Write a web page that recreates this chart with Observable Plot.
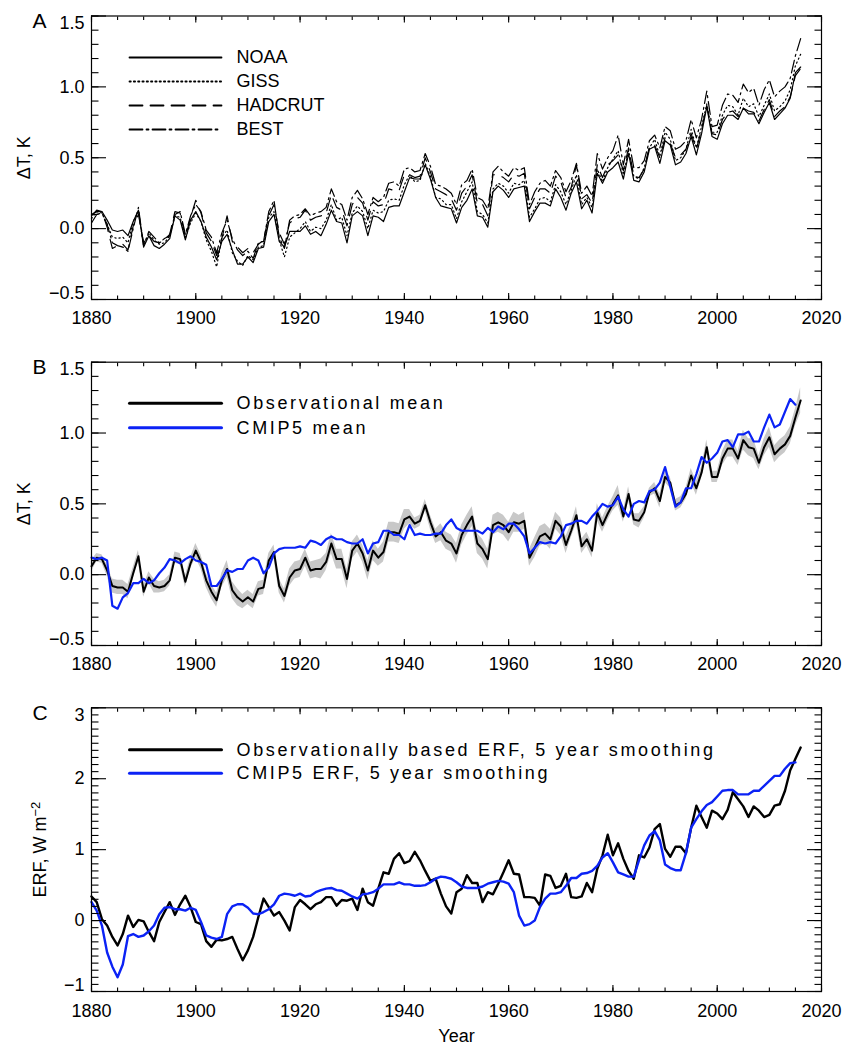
<!DOCTYPE html>
<html><head><meta charset="utf-8">
<script src="https://cdn.jsdelivr.net/npm/d3@7"></script>
<script src="https://cdn.jsdelivr.net/npm/@observablehq/plot@0.6"></script>
<style>
body{margin:0;background:#fff;}
#chart{position:relative;width:848px;height:1046px;}
#chart svg{position:absolute;left:0;}
</style></head><body><div id="chart"></div>
<script>
// ---------- data ----------
const years = d3.range(1880, 2017);          // 1880..2016
const years15 = d3.range(1880, 2016);        // 1880..2015

const noaa = [
0.10,0.12,0.12,0.06,-0.01,-0.02,-0.01,-0.05,0.05,0.13,
-0.13,-0.05,-0.12,-0.14,-0.11,-0.07,0.09,0.06,-0.08,0.06,
0.12,0.05,-0.06,-0.13,-0.22,-0.09,-0.04,-0.15,-0.25,-0.25,
-0.20,-0.24,-0.14,-0.13,0.05,0.10,-0.09,-0.13,-0.02,-0.02,
-0.02,0.02,-0.04,-0.02,-0.05,0.03,0.13,0.05,0.04,-0.10,
0.09,0.12,0.09,-0.05,0.09,0.08,0.05,0.15,0.16,0.16,
0.26,0.36,0.35,0.35,0.45,0.35,0.22,0.16,0.15,0.14,
0.04,0.15,0.20,0.28,0.09,0.08,0.01,0.26,0.30,0.27,
0.22,0.28,0.29,0.30,0.05,0.12,0.18,0.18,0.16,0.28,
0.22,0.13,0.25,0.33,0.14,0.20,0.11,0.39,0.32,0.40,
0.43,0.47,0.35,0.53,0.34,0.33,0.40,0.56,0.58,0.46,
0.62,0.59,0.45,0.47,0.53,0.65,0.52,0.67,0.86,0.65,
0.63,0.74,0.80,0.80,0.77,0.85,0.81,0.81,0.74,0.82,
0.89,0.77,0.81,0.85,0.92,1.10,1.14];

const giss = [
0.07,0.12,0.11,0.03,-0.06,-0.07,-0.06,-0.10,0.05,0.12,
-0.12,-0.03,-0.08,-0.11,-0.10,-0.05,0.09,0.08,-0.07,0.04,
0.11,0.05,-0.08,-0.16,-0.27,-0.06,-0.01,-0.17,-0.23,-0.26,
-0.19,-0.22,-0.13,-0.12,0.08,0.12,-0.08,-0.20,-0.06,-0.03,
0.00,0.05,-0.02,0.01,0.00,0.06,0.17,0.06,0.08,-0.05,
0.11,0.16,0.12,0.00,0.13,0.11,0.12,0.20,0.21,0.20,
0.31,0.38,0.33,0.34,0.46,0.37,0.22,0.21,0.17,0.17,
0.07,0.19,0.26,0.33,0.12,0.10,0.04,0.28,0.32,0.30,
0.25,0.32,0.31,0.34,0.08,0.14,0.21,0.22,0.19,0.31,
0.26,0.17,0.27,0.38,0.17,0.22,0.15,0.42,0.33,0.43,
0.49,0.55,0.38,0.55,0.37,0.35,0.43,0.57,0.63,0.51,
0.68,0.63,0.48,0.50,0.56,0.70,0.57,0.72,0.88,0.68,
0.68,0.80,0.87,0.86,0.80,0.92,0.86,0.88,0.79,0.87,
0.95,0.83,0.86,0.90,0.98,1.15,1.23];

const hadcrut = [
0.09,0.13,0.12,0.01,-0.14,-0.12,-0.11,-0.15,0.02,0.10,
-0.10,-0.05,-0.09,-0.10,-0.08,-0.04,0.12,0.11,-0.06,0.08,
0.20,0.11,-0.03,-0.09,-0.19,-0.07,0.09,-0.09,-0.13,-0.17,
-0.14,-0.17,-0.11,-0.08,0.09,0.17,-0.03,-0.11,0.04,0.07,
0.08,0.13,0.06,0.08,0.09,0.11,0.24,0.15,0.13,0.02,
0.17,0.22,0.18,0.06,0.19,0.16,0.17,0.28,0.27,0.27,
0.38,0.38,0.36,0.37,0.50,0.40,0.28,0.26,0.24,0.21,
0.13,0.25,0.30,0.38,0.18,0.17,0.09,0.38,0.38,0.36,
0.33,0.38,0.37,0.39,0.14,0.22,0.28,0.28,0.25,0.37,
0.33,0.22,0.29,0.45,0.21,0.24,0.18,0.45,0.36,0.45,
0.48,0.52,0.41,0.57,0.37,0.36,0.42,0.58,0.59,0.50,
0.64,0.60,0.50,0.52,0.56,0.67,0.56,0.70,0.87,0.67,
0.66,0.77,0.82,0.83,0.79,0.85,0.83,0.82,0.76,0.84,
0.91,0.79,0.83,0.86,0.93,1.08,1.13];

const best = [
0.04,0.10,0.11,0.03,-0.10,-0.12,-0.13,-0.16,0.00,0.15,
-0.12,-0.02,-0.06,-0.10,-0.07,-0.05,0.10,0.12,-0.04,0.09,
0.17,0.12,-0.01,-0.06,-0.17,-0.03,0.06,-0.07,-0.15,-0.19,
-0.16,-0.21,-0.10,-0.09,0.12,0.20,-0.06,-0.14,0.06,0.09,
0.10,0.14,0.09,0.11,0.12,0.15,0.28,0.19,0.17,0.06,
0.22,0.27,0.21,0.10,0.22,0.19,0.22,0.32,0.33,0.30,
0.42,0.43,0.40,0.41,0.53,0.44,0.31,0.30,0.28,0.25,
0.17,0.31,0.34,0.42,0.22,0.20,0.14,0.40,0.44,0.40,
0.37,0.43,0.41,0.43,0.17,0.26,0.32,0.34,0.30,0.41,
0.36,0.26,0.34,0.46,0.25,0.30,0.23,0.53,0.42,0.50,
0.55,0.66,0.45,0.63,0.43,0.43,0.48,0.62,0.66,0.57,
0.72,0.69,0.56,0.58,0.62,0.77,0.64,0.77,0.97,0.72,
0.73,0.87,0.95,0.94,0.89,1.02,0.96,0.99,0.87,0.98,
1.05,0.93,0.97,1.00,1.06,1.22,1.34];

const obsMean = [
0.06,0.12,0.11,0.03,-0.08,-0.09,-0.09,-0.12,0.01,0.13,
-0.12,-0.02,-0.08,-0.09,-0.08,-0.04,0.12,0.11,-0.05,0.08,
0.17,0.09,-0.04,-0.12,-0.18,-0.04,0.04,-0.11,-0.16,-0.19,
-0.16,-0.19,-0.10,-0.09,0.10,0.16,-0.08,-0.15,-0.02,0.03,
0.04,0.12,0.03,0.04,0.04,0.09,0.22,0.11,0.11,-0.03,
0.17,0.22,0.15,0.03,0.17,0.12,0.16,0.30,0.30,0.29,
0.39,0.41,0.36,0.38,0.49,0.37,0.27,0.30,0.24,0.22,
0.15,0.28,0.35,0.41,0.22,0.18,0.11,0.35,0.37,0.35,
0.30,0.37,0.36,0.38,0.12,0.19,0.27,0.29,0.25,0.38,
0.34,0.21,0.31,0.42,0.20,0.25,0.17,0.44,0.35,0.43,
0.50,0.56,0.41,0.57,0.39,0.38,0.44,0.58,0.61,0.52,
0.69,0.65,0.49,0.51,0.57,0.70,0.61,0.72,0.90,0.69,
0.69,0.82,0.89,0.89,0.82,0.95,0.90,0.89,0.79,0.90,
0.97,0.85,0.89,0.92,0.98,1.11,1.23];

const obsSpread = [
0.04,0.03,0.03,0.04,0.05,0.05,0.05,0.05,0.04,0.04,
0.04,0.04,0.05,0.04,0.04,0.04,0.04,0.04,0.04,0.04,
0.05,0.05,0.05,0.05,0.05,0.05,0.06,0.06,0.06,0.05,
0.05,0.05,0.05,0.05,0.05,0.05,0.05,0.05,0.06,0.06,
0.06,0.06,0.06,0.06,0.07,0.06,0.07,0.07,0.07,0.07,
0.06,0.06,0.06,0.07,0.07,0.06,0.07,0.07,0.07,0.07,
0.07,0.05,0.04,0.04,0.04,0.05,0.05,0.06,0.06,0.06,
0.07,0.07,0.07,0.07,0.07,0.07,0.07,0.07,0.07,0.07,
0.07,0.07,0.06,0.06,0.06,0.07,0.07,0.07,0.07,0.06,
0.06,0.06,0.05,0.06,0.05,0.05,0.05,0.06,0.05,0.05,
0.05,0.07,0.04,0.05,0.04,0.05,0.04,0.03,0.04,0.05,
0.04,0.04,0.04,0.04,0.04,0.05,0.05,0.04,0.05,0.04,
0.04,0.05,0.06,0.06,0.05,0.07,0.06,0.07,0.05,0.06,
0.07,0.06,0.06,0.06,0.06,0.06,0.09];

const cmip5Mean = [
0.12,0.11,0.12,0.10,-0.22,-0.24,-0.16,-0.13,-0.06,-0.06,
-0.03,-0.06,-0.04,0.01,0.05,0.11,0.10,0.08,0.11,0.13,
0.10,0.09,0.07,-0.08,-0.08,-0.03,0.03,0.02,0.04,0.04,
0.10,0.12,0.10,0.01,0.05,0.15,0.18,0.19,0.19,0.19,
0.20,0.19,0.24,0.23,0.21,0.25,0.27,0.25,0.25,0.23,
0.22,0.22,0.25,0.15,0.22,0.23,0.31,0.31,0.28,0.28,
0.25,0.35,0.28,0.29,0.28,0.28,0.29,0.29,0.35,0.39,
0.33,0.31,0.31,0.31,0.31,0.29,0.33,0.30,0.34,0.32,
0.36,0.36,0.32,0.27,0.15,0.19,0.23,0.22,0.23,0.22,
0.27,0.35,0.36,0.38,0.38,0.36,0.41,0.45,0.50,0.48,
0.49,0.55,0.46,0.41,0.50,0.52,0.51,0.59,0.60,0.65,
0.76,0.62,0.48,0.51,0.61,0.61,0.71,0.83,0.79,0.82,
0.86,0.94,0.95,0.90,0.99,0.99,1.01,0.94,0.94,1.04,
1.13,1.04,1.06,1.15,1.24,1.20];

const obsErf = [
0.34,0.26,0.02,-0.07,-0.23,-0.35,-0.19,0.07,-0.09,0.01,
-0.01,-0.16,-0.29,-0.02,0.12,0.26,0.08,0.23,0.35,0.19,
-0.02,-0.05,-0.29,-0.37,-0.27,-0.28,-0.26,-0.23,-0.40,-0.56,
-0.42,-0.23,0.05,0.31,0.19,0.07,0.12,0.00,-0.14,0.19,
0.29,0.23,0.16,0.23,0.26,0.33,0.33,0.21,0.29,0.28,
0.31,0.15,0.45,0.26,0.21,0.45,0.68,0.66,0.87,0.95,
0.81,0.84,0.97,0.85,0.70,0.56,0.59,0.38,0.20,0.10,
0.40,0.45,0.64,0.53,0.53,0.26,0.40,0.37,0.52,0.68,
0.85,0.66,0.65,0.33,0.33,0.32,0.21,0.65,0.63,0.46,
0.49,0.66,0.33,0.32,0.34,0.53,0.40,0.73,0.92,1.21,
0.92,1.09,0.87,0.70,0.59,0.92,0.89,1.03,1.29,1.36,
1.01,0.90,1.04,1.04,0.95,1.31,1.62,1.46,1.31,1.55,
1.51,1.43,1.56,1.81,1.71,1.61,1.46,1.61,1.55,1.46,
1.49,1.62,1.64,1.83,2.12,2.28,2.44];

const cmip5Erf = [
0.26,0.14,-0.07,-0.45,-0.65,-0.80,-0.62,-0.22,-0.19,-0.23,
-0.21,-0.15,-0.07,0.09,0.18,0.19,0.16,0.16,0.14,0.18,
0.15,-0.02,-0.21,-0.24,-0.26,-0.23,0.09,0.20,0.23,0.23,
0.18,0.10,0.09,0.12,0.16,0.23,0.35,0.38,0.37,0.35,
0.38,0.34,0.35,0.40,0.43,0.45,0.46,0.43,0.42,0.38,
0.34,0.31,0.37,0.38,0.40,0.45,0.51,0.51,0.51,0.54,
0.51,0.51,0.49,0.49,0.50,0.54,0.59,0.62,0.61,0.59,
0.54,0.48,0.46,0.46,0.46,0.48,0.52,0.54,0.56,0.55,
0.52,0.40,0.07,-0.07,-0.05,0.00,0.19,0.31,0.38,0.38,
0.40,0.49,0.60,0.60,0.66,0.67,0.70,0.77,0.89,0.95,
0.82,0.68,0.65,0.62,0.62,0.85,1.06,1.20,1.26,1.13,
0.79,0.74,0.71,0.71,0.95,1.31,1.43,1.54,1.63,1.67,
1.75,1.83,1.84,1.84,1.78,1.78,1.78,1.83,1.83,1.90,
1.97,2.04,2.04,2.14,2.22,2.23];

// tick values and labels
const xMajor = [1880, 1900, 1920, 1940, 1960, 1980, 2000, 2020];
const xMinor = d3.range(1880, 2021, 5);
const yMajorT = [-0.5, 0, 0.5, 1.0, 1.5];
const yMinorT = d3.range(-5, 16).map(d => d / 10);
const yMajorE = [-1, 0, 1, 2, 3];
const yMinorE = d3.range(-10, 31).map(d => d / 10);

const legendA = ["NOAA", "GISS", "HADCRUT", "BEST"];
const legendB = ["Observational mean", "CMIP5 mean"];
const legendC = ["Observationally based ERF, 5 year smoothing", "CMIP5 ERF, 5 year smoothing"];

// ---------- style ----------
const FONT = '"Liberation Sans", Arial, Helvetica, sans-serif';
const BLUE = "#0b22f5";
const dashA = [null, "1.3,3", "13,8", "13,4,2,4"];

const lineShape = {draw(ctx, l) { ctx.moveTo(0, 0); ctx.lineTo(0, -l); }};

function frameTicks(xMaj, xMin, yMaj, yMin) {
  const o = {fill: "none", label: null, strokeWidth: 1.1};
  const XM = 6, Xm = 3.5, YM = 15, Ym = 7.5;
  return [
    Plot.axisX(xMaj, {...o, anchor: "bottom", tickSize: XM, dy: -XM}),
    Plot.axisX(xMin, {...o, anchor: "bottom", tickSize: Xm, dy: -Xm}),
    Plot.axisX(xMaj, {...o, anchor: "top", tickSize: XM, dy: XM}),
    Plot.axisX(xMin, {...o, anchor: "top", tickSize: Xm, dy: Xm}),
    Plot.axisY(yMaj, {...o, anchor: "left", tickSize: YM, dx: YM}),
    Plot.axisY(yMin, {...o, anchor: "left", tickSize: Ym, dx: Ym}),
    Plot.axisY(yMaj, {...o, anchor: "right", tickSize: YM, dx: -YM}),
    Plot.axisY(yMin, {...o, anchor: "right", tickSize: Ym, dx: -Ym})
  ];
}

function legendMarks(labels, rows, styles) {
  const out = [];
  labels.forEach((lab, i) => {
    out.push(Plot.vector([0], {frameAnchor: "top-left", dx: 38, dy: rows[i], length: 92, rotate: 90,
      anchor: "start", shape: lineShape, stroke: styles[i].stroke, strokeWidth: styles[i].w,
      strokeDasharray: styles[i].dash || null}));
    out.push(Plot.text([lab], {frameAnchor: "top-left", dx: 145, dy: rows[i], textAnchor: "start",
      lineAnchor: "middle", fontSize: 18}));
  });
  return out;
}

function panel({top, height, mt, mb, yDomain, yMaj, yMin, yFmt, letter, ylabel, ylabDx, xPad, marks}) {
  const yLabAxis = (vals, dy) => Plot.axisY(vals, {anchor: "left", tickSize: 0, tickPadding: 7, tickFormat: yFmt, label: null, fontSize: 18, dy});
  const svg = Plot.plot({
    width: 848, height,
    marginLeft: 91, marginRight: 27, marginTop: mt, marginBottom: mb,
    style: {fontFamily: FONT, fontSize: "18px", overflow: "visible", background: "white", color: "black"},
    x: {domain: [1880, 2020]},
    y: {domain: yDomain},
    marks: [
      ...marks,
      Plot.frame({stroke: "black", strokeWidth: 1.2}),
      ...frameTicks(xMajor, xMinor, yMaj, yMin),
      Plot.axisX(xMajor, {anchor: "bottom", tickSize: 0, tickPadding: xPad, tickFormat: d => String(d), label: null, fontSize: 18}),
      yLabAxis(yMaj.slice(1, -1), 0),
      yLabAxis(yMaj.slice(-1), 7),
      yLabAxis(yMaj.slice(0, 1), -6),
      Plot.text([letter], {frameAnchor: "top-left", dx: -59, dy: 12, textAnchor: "start", lineAnchor: "bottom", fontSize: 21}),
      Plot.text([ylabel], {frameAnchor: "left", dx: ylabDx, rotate: -90, textAnchor: "middle", lineAnchor: "middle", fontSize: 18})
    ]
  });
  svg.style.top = top + "px";
  document.getElementById("chart").appendChild(svg);
  return svg;
}

// ---------- Panel A ----------
const seriesA = [noaa, giss, hadcrut, best];
panel({
  top: 0, height: 340, mt: 15.5, mb: 41, yDomain: [-0.5, 1.5], yMaj: yMajorT, yMin: yMinorT,
  yFmt: d3.format(".1f"), letter: "A", ylabel: "ΔT, K", ylabDx: -67, xPad: 12,
  marks: [
    ...seriesA.map((s, i) => Plot.lineY(s, {x: years, stroke: "black", strokeWidth: 1.2, strokeDasharray: dashA[i]})),
    ...legendMarks(legendA, [41.5, 65.5, 89.5, 113.5], dashA.map(d => ({stroke: "black", w: 1.8, dash: d})))
  ]
});

// ---------- Panel B ----------
const svgB = panel({
  top: 340, height: 345, mt: 21.7, mb: 40, yDomain: [-0.5, 1.5], yMaj: yMajorT, yMin: yMinorT,
  yFmt: d3.format(".1f"), letter: "B", ylabel: "ΔT, K", ylabDx: -67, xPad: 12,
  marks: [
    Plot.areaY(obsMean, {x: years, y1: obsMean.map((v, i) => v - obsSpread[i]), y2: obsMean.map((v, i) => v + obsSpread[i]), fill: "#c8c8c8"}),
    Plot.lineY(obsMean, {x: years, stroke: "black", strokeWidth: 2}),
    Plot.lineY(cmip5Mean, {x: years15, stroke: BLUE, strokeWidth: 2.2}),
    ...legendMarks(legendB, [41, 65.6], [{stroke: "black", w: 3}, {stroke: BLUE, w: 3}])
  ]
});

// ---------- Panel C ----------
const svgC = panel({
  top: 685, height: 361, mt: 22.3, mb: 55, yDomain: [-1, 3], yMaj: yMajorE, yMin: yMinorE,
  yFmt: d3.format("d"), letter: "C", ylabel: "ERF, W m", ylabDx: -51, xPad: 13,
  marks: [
    Plot.lineY(obsErf, {x: years, stroke: "black", strokeWidth: 2.4}),
    Plot.lineY(cmip5Erf, {x: years15, stroke: BLUE, strokeWidth: 2.4}),
    ...legendMarks(legendC, [42, 65.4], [{stroke: "black", w: 3}, {stroke: BLUE, w: 3}]),
    Plot.text(["Year"], {frameAnchor: "bottom", dy: 50, textAnchor: "middle", lineAnchor: "bottom", fontSize: 18})
  ]
});

// wide letter spacing for legends B and C, superscript on ERF unit
[svgB, svgC].forEach(svg => {
  svg.querySelectorAll("text").forEach(t => {
    if (legendB.includes(t.textContent) || legendC.includes(t.textContent)) t.style.letterSpacing = "2.65px";
  });
});
svgC.querySelectorAll("text").forEach(t => {
  if (t.textContent === "ERF, W m") {
    const ts = document.createElementNS("http://www.w3.org/2000/svg", "tspan");
    ts.setAttribute("dy", "-0.45em");
    ts.setAttribute("font-size", "13");
    ts.textContent = "−2";
    t.appendChild(ts);
  }
});
</script></body></html>
